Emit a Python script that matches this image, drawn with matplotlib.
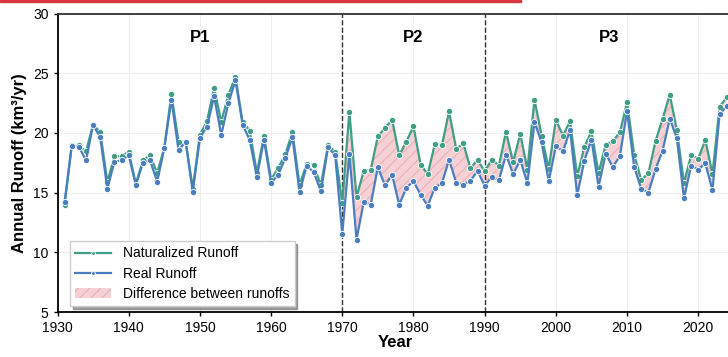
import numpy as np
import matplotlib
matplotlib.use('Agg')
import matplotlib.pyplot as plt
from matplotlib.patches import Rectangle

plt.rcParams['font.family'] = ['Liberation Sans', 'DejaVu Sans']
plt.rcParams['hatch.linewidth'] = 0.8

# 年份
years = list(range(1931, 2025))
# 天然径流
natural = [14.0, 19.0, 18.95, 18.45, 20.7, 20.08, 15.9, 18.05, 18.05, 18.44,
           15.73, 17.7, 18.13, 16.65, 18.74, 23.27, 19.25, 19.27, 15.34, 19.86,
           20.98, 23.77, 20.92, 23.2, 24.7, 20.92, 20.2, 16.65, 19.75, 16.09,
           17.07, 18.2, 20.08, 15.64, 17.43, 17.3, 15.6, 19.02, 18.4, 14.13,
           21.79, 14.6, 16.8, 16.93, 19.72, 20.42, 21.1, 18.13, 19.27, 20.56,
           17.35, 16.54, 19.08, 18.97, 21.8, 18.66, 19.13, 17.04, 17.74, 16.79,
           17.77, 17.26, 20.1, 17.54, 19.94, 16.93, 22.8, 19.78, 17.0, 21.1,
           19.78, 20.98, 16.37, 18.83, 20.14, 16.65, 19.02, 19.3, 20.06, 22.57,
           18.18, 16.06, 16.62, 19.3, 21.2, 23.2, 20.25, 15.8, 18.13, 17.85,
           19.41, 16.56, 22.2, 22.99]
# 实际径流
real = [14.22, 18.9, 18.85, 17.7, 20.67, 19.64, 15.34, 17.6, 17.7, 18.13,
        15.64, 17.5, 17.7, 15.92, 18.74, 22.8, 18.55, 19.27, 15.06, 19.58,
        20.53, 23.07, 19.83, 22.5, 24.4, 20.7, 19.41, 16.3, 19.44, 15.8,
        16.5, 17.9, 19.64, 15.03, 17.26, 16.7, 15.1, 18.8, 18.13, 11.54,
        18.24, 11.06, 14.19, 14.0, 17.15, 15.6, 16.5, 13.97, 15.42, 15.95,
        14.83, 13.9, 15.42, 15.78, 17.77, 15.84, 15.67, 16.0, 16.82, 15.59,
        16.31, 16.03, 18.18, 16.56, 17.74, 15.8, 20.9, 19.22, 15.95, 18.9,
        18.46, 20.25, 14.78, 17.68, 19.44, 15.5, 18.27, 17.15, 18.07, 21.82,
        17.18, 15.3, 15.0, 16.96, 18.52, 21.2, 19.55, 14.52, 17.26, 16.93,
        17.46, 15.2, 21.56, 22.26]
periods = ['P1', 'P2', 'P3']
period_x = [1950, 1980, 2007.5]
breaks = [1970, 1990]

yrs = np.array(years)
nat = np.array(natural)
rl = np.array(real)

fig = plt.figure(figsize=(7.28, 3.57), dpi=100)
ax = fig.add_axes([0.079, 0.126, 0.929, 0.836])

green = '#3f9e86'
blue = '#4a7ebf'

ax.grid(True, color='#eeeeee', linewidth=0.8)
ax.set_axisbelow(True)

mask = yrs >= 1970
ax.fill_between(yrs[mask], rl[mask], nat[mask], facecolor='#f5d0d4',
                edgecolor='#eab0b7', hatch='///', linewidth=0,
                label='Difference between runoffs', zorder=1)

ax.plot(yrs, nat, '-o', color=green, lw=1.6, ms=4.5, mec='white', mew=0.6,
        label='Naturalized Runoff', zorder=3)
ax.plot(yrs, rl, '-o', color=blue, lw=1.6, ms=4.5, mec='white', mew=0.6,
        label='Real Runoff', zorder=4)

for b in breaks:
    ax.axvline(b, color='#333333', ls='--', lw=1.0, zorder=2)
for p, px in zip(periods, period_x):
    ax.text(px, 28, p, ha='center', va='center', fontsize=12, fontweight='bold')

ax.set_xlim(1930, 2025)
ax.set_ylim(5, 30)
ax.set_xticks(range(1930, 2030, 10))
ax.set_yticks(range(5, 35, 5))
ax.tick_params(labelsize=10, length=3, width=1, direction='out')
ax.set_xlabel('Year', fontsize=12, fontweight='bold', labelpad=0)
ax.set_ylabel('Annual Runoff (km³/yr)', fontsize=12, fontweight='bold', labelpad=4)
for s in ['left', 'bottom']:
    ax.spines[s].set_linewidth(1.3)
    ax.spines[s].set_color('black')
ax.spines['top'].set_color('#333333')
ax.spines['top'].set_linewidth(1.3)

h, l = ax.get_legend_handles_labels()
order = [1, 2, 0]
leg = ax.legend([h[i] for i in order], [l[i] for i in order], loc='lower left',
                fontsize=10, frameon=True, shadow=True, fancybox=False,
                borderaxespad=0.4, handlelength=2.6, markerscale=0.6,
                labelspacing=0.45, bbox_to_anchor=(0.01, 0.0))
leg.get_frame().set_edgecolor('#cccccc')

# 顶部红条
fig.patches.append(Rectangle((0, 0.993), 0.715, 0.007, transform=fig.transFigure,
                             color='#d9363e', zorder=10))

fig.savefig('out.png', dpi=100)
